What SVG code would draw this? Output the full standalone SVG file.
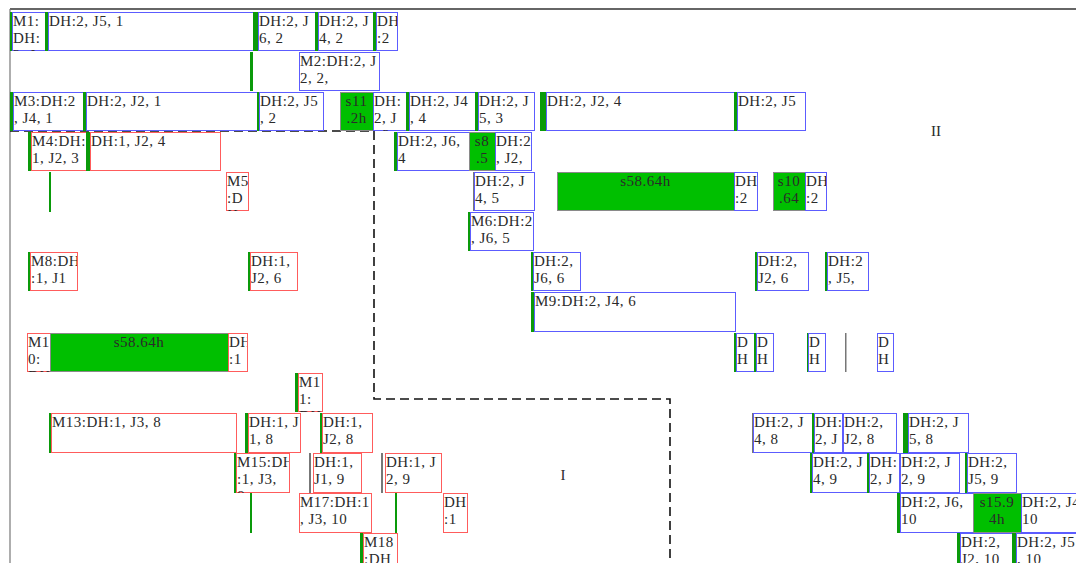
<svg xmlns="http://www.w3.org/2000/svg" width="1076" height="563" viewBox="0 0 1076 563">
<style>
.bl{fill:#fff;stroke:#5c5cff;stroke-width:1}
.rd{fill:#fff;stroke:#ff5c5c;stroke-width:1}
.gb{fill:#0a9a0a}
.gy{fill:#777}
.gx{fill:#00bf00;stroke:#8a8a8a;stroke-width:1}
text{font-family:"Liberation Serif","Noto Sans CJK SC",serif;font-size:15px;fill:#2a2a2a;letter-spacing:0.5px}
.c{text-anchor:middle}
.lab{font-size:15px;letter-spacing:0}
.dash{fill:none;stroke:#111;stroke-width:1.6;stroke-dasharray:9 5}
</style>
<rect width="1076" height="563" fill="#fff"/>
<g id="frame">
<line x1="10" y1="9" x2="1076" y2="9" stroke="#333" stroke-width="1.5"/>
<line x1="10" y1="9" x2="10" y2="563" stroke="#777" stroke-width="1.2"/>
</g>
<g id="connectors">
<polyline class="dash" points="10,131 374,131 374,399 670,399 670,563"/>
</g>
<g id="labels">
<text class="lab" x="936" y="136" text-anchor="middle">II</text>
<text class="lab" x="563" y="480" text-anchor="middle">I</text>
</g>

<!-- Row 1 -->
<g id="n-m1"><rect class="gb" x="10" y="12" width="3" height="39"/><rect class="bl" x="12.5" y="12.5" width="33" height="38"/><svg x="12" y="12" width="33" height="39"><text x="1" y="14">M1:</text><text x="1" y="31">DH:</text><text x="1" y="48">2, J</text></svg></g>
<g id="n-r1b"><rect class="gb" x="45" y="12" width="3" height="39"/><rect class="bl" x="48.5" y="12.5" width="205" height="38"/><svg x="48" y="12" width="205" height="39"><text x="1" y="14">DH:2, J5, 1</text></svg></g>
<g id="n-r1c"><rect class="gb" x="253" y="12" width="5" height="39"/><rect class="bl" x="258.5" y="12.5" width="57" height="38"/><svg x="258" y="12" width="57" height="39"><text x="1" y="14">DH:2, J</text><text x="1" y="31">6, 2</text></svg></g>
<g id="n-r1d"><rect class="gb" x="315" y="12" width="3" height="39"/><rect class="bl" x="318.5" y="12.5" width="55" height="38"/><svg x="318" y="12" width="55" height="39"><text x="1" y="14">DH:2, J</text><text x="1" y="31">4, 2</text></svg></g>
<g id="n-r1e"><rect class="gb" x="373" y="12" width="3" height="39"/><rect class="bl" x="376.5" y="12.5" width="21" height="38"/><svg x="376" y="12" width="21" height="39"><text x="1" y="14">DH</text><text x="1" y="31">:2</text></svg></g>

<!-- Row 2 -->
<g id="n-m2"><rect class="gb" x="250" y="52" width="3" height="39"/><rect class="bl" x="299.5" y="52.5" width="80" height="38"/><svg x="299" y="52" width="80" height="39"><text x="1" y="14">M2:DH:2, J</text><text x="1" y="31">2, 2,</text></svg></g>

<!-- Row 3 -->
<g id="n-m3"><rect class="gb" x="10" y="92" width="3" height="39"/><rect class="bl" x="13.5" y="92.5" width="70" height="38"/><svg x="13" y="92" width="70" height="39"><text x="1" y="14">M3:DH:2</text><text x="1" y="31">, J4, 1</text></svg></g>
<g id="n-r3b"><rect class="gb" x="83" y="92" width="3" height="39"/><rect class="bl" x="86.5" y="92.5" width="171" height="38"/><svg x="86" y="92" width="171" height="39"><text x="1" y="14">DH:2, J2, 1</text></svg></g>
<g id="n-r3c"><rect class="gb" x="257" y="92" width="2" height="39"/><rect class="bl" x="259.5" y="92.5" width="64" height="38"/><svg x="259" y="92" width="64" height="39"><text x="1" y="14">DH:2, J5</text><text x="1" y="31">, 2</text></svg></g>
<g id="n-s11"><rect class="gx" x="340.5" y="92.5" width="33" height="38"/><svg x="340" y="92" width="33" height="39"><text class="c" x="50%" y="14">s11</text><text class="c" x="50%" y="31">.2h</text></svg></g>
<g id="n-r3d"><rect class="bl" x="373.5" y="92.5" width="33" height="38"/><svg x="373" y="92" width="33" height="39"><text x="1" y="14">DH:</text><text x="1" y="31">2, J</text><text x="1" y="48">, 2</text></svg></g>
<g id="n-r3e"><rect class="gb" x="406" y="92" width="3" height="39"/><rect class="bl" x="409.5" y="92.5" width="66" height="38"/><svg x="409" y="92" width="66" height="39"><text x="1" y="14">DH:2, J4</text><text x="1" y="31">, 4</text></svg></g>
<g id="n-r3f"><rect class="gb" x="475" y="92" width="3" height="39"/><rect class="bl" x="478.5" y="92.5" width="56" height="38"/><svg x="478" y="92" width="56" height="39"><text x="1" y="14">DH:2, J</text><text x="1" y="31">5, 3</text></svg></g>
<g id="n-r3g"><rect class="gb" x="540" y="92" width="6" height="39"/><rect class="bl" x="546.5" y="92.5" width="188" height="38"/><svg x="546" y="92" width="188" height="39"><text x="1" y="14">DH:2, J2, 4</text></svg></g>
<g id="n-r3h"><rect class="gb" x="734" y="92" width="3" height="39"/><rect class="bl" x="737.5" y="92.5" width="68" height="38"/><svg x="737" y="92" width="68" height="39"><text x="1" y="14">DH:2, J5</text></svg></g>

<!-- Row 4 -->
<g id="n-m4"><rect class="gb" x="28" y="132" width="3" height="39"/><rect class="rd" x="31.5" y="132.5" width="55" height="38"/><svg x="31" y="132" width="55" height="39"><text x="1" y="14">M4:DH:</text><text x="1" y="31">1, J2, 3</text></svg></g>
<g id="n-r4b"><rect class="gb" x="86" y="132" width="4" height="39"/><rect class="rd" x="90.5" y="132.5" width="130" height="38"/><svg x="90" y="132" width="130" height="39"><text x="1" y="14">DH:1, J2, 4</text></svg></g>
<g id="n-r4c"><rect class="gb" x="394" y="132" width="3" height="39"/><rect class="bl" x="397.5" y="132.5" width="72" height="38"/><svg x="397" y="132" width="72" height="39"><text x="1" y="14">DH:2, J6,</text><text x="1" y="31">4</text></svg></g>
<g id="n-s8"><rect class="gx" x="469.5" y="132.5" width="26" height="38"/><svg x="469" y="132" width="26" height="39"><text class="c" x="50%" y="14">s8</text><text class="c" x="50%" y="31">.5</text></svg></g>
<g id="n-r4d"><rect class="bl" x="495.5" y="132.5" width="36" height="38"/><svg x="495" y="132" width="36" height="39"><text x="1" y="14">DH:2</text><text x="1" y="31">, J2,</text></svg></g>

<!-- Row 5 -->
<g id="n-r5a"><rect class="gb" x="49" y="172" width="2" height="40"/></g>
<g id="n-m5"><rect class="rd" x="226.5" y="172.5" width="22" height="38"/><svg x="226" y="172" width="22" height="39"><text x="1" y="14">M5</text><text x="1" y="31">:D</text><text x="1" y="48">H</text></svg></g>
<g id="n-r5b"><rect class="gy" x="473" y="172" width="1.5" height="39"/><rect class="bl" x="474.5" y="172.5" width="60" height="38"/><svg x="474" y="172" width="60" height="39"><text x="1" y="14">DH:2, J</text><text x="1" y="31">4, 5</text></svg></g>
<g id="n-s58a"><rect class="gx" x="557.5" y="172.5" width="177" height="38"/><svg x="557" y="172" width="177" height="39"><text class="c" x="50%" y="14">s58.64h</text></svg></g>
<g id="n-r5c"><rect class="bl" x="734.5" y="172.5" width="23" height="38"/><svg x="734" y="172" width="23" height="39"><text x="1" y="14">DH</text><text x="1" y="31">:2</text></svg></g>
<g id="n-s10"><rect class="gx" x="773.5" y="172.5" width="32" height="38"/><svg x="773" y="172" width="32" height="39"><text class="c" x="50%" y="14">s10</text><text class="c" x="50%" y="31">.64</text></svg></g>
<g id="n-r5d"><rect class="bl" x="805.5" y="172.5" width="21" height="38"/><svg x="805" y="172" width="21" height="39"><text x="1" y="14">DH</text><text x="1" y="31">:2</text></svg></g>

<!-- Row 6 -->
<g id="n-m6"><rect class="gb" x="468" y="212" width="2" height="39"/><rect class="bl" x="470.5" y="212.5" width="63" height="38"/><svg x="470" y="212" width="63" height="39"><text x="1" y="14">M6:DH:2</text><text x="1" y="31">, J6, 5</text></svg></g>

<!-- Row 7 -->
<g id="n-m8"><rect class="gb" x="28" y="252" width="2" height="39"/><rect class="rd" x="30.5" y="252.5" width="47" height="38"/><svg x="30" y="252" width="47" height="39"><text x="1" y="14">M8:DH</text><text x="1" y="31">:1, J1</text></svg></g>
<g id="n-r7b"><rect class="gb" x="248" y="252" width="2" height="39"/><rect class="rd" x="250.5" y="252.5" width="47" height="38"/><svg x="250" y="252" width="47" height="39"><text x="1" y="14">DH:1,</text><text x="1" y="31">J2, 6</text></svg></g>
<g id="n-r7c"><rect class="gb" x="531" y="252" width="2" height="39"/><rect class="bl" x="533.5" y="252.5" width="47" height="38"/><svg x="533" y="252" width="47" height="39"><text x="1" y="14">DH:2,</text><text x="1" y="31">J6, 6</text></svg></g>
<g id="n-r7d"><rect class="gb" x="755" y="252" width="2" height="39"/><rect class="bl" x="757.5" y="252.5" width="51" height="38"/><svg x="757" y="252" width="51" height="39"><text x="1" y="14">DH:2,</text><text x="1" y="31">J2, 6</text></svg></g>
<g id="n-r7e"><rect class="gb" x="825" y="252" width="2" height="39"/><rect class="bl" x="827.5" y="252.5" width="41" height="38"/><svg x="827" y="252" width="41" height="39"><text x="1" y="14">DH:2</text><text x="1" y="31">, J5,</text></svg></g>

<!-- Row 8 -->
<g id="n-m9"><rect class="gb" x="531" y="292" width="3" height="40"/><rect class="bl" x="534.5" y="292.5" width="201" height="39"/><svg x="534" y="292" width="201" height="40"><text x="1" y="14">M9:DH:2, J4, 6</text></svg></g>

<!-- Row 9 -->
<g id="n-m10"><rect class="rd" x="27.5" y="333.5" width="23" height="38"/><svg x="27" y="333" width="23" height="39"><text x="1" y="14">M1</text><text x="1" y="31">0:</text><text x="1" y="48">DH</text></svg></g>
<g id="n-s58b"><rect class="gx" x="50.5" y="333.5" width="178" height="38"/><svg x="50" y="333" width="178" height="39"><text class="c" x="50%" y="14">s58.64h</text></svg></g>
<g id="n-r9b"><rect class="rd" x="228.5" y="333.5" width="19" height="38"/><svg x="228" y="333" width="19" height="39"><text x="1" y="14">DH</text><text x="1" y="31">:1</text></svg></g>
<g id="n-r9c"><rect class="gb" x="734" y="333" width="2" height="39"/><rect class="bl" x="736.5" y="333.5" width="18" height="38"/><svg x="736" y="333" width="18" height="39"><text x="1" y="14">D</text><text x="1" y="31">H</text></svg></g>
<g id="n-r9d"><rect class="gb" x="754" y="333" width="2" height="39"/><rect class="bl" x="756.5" y="333.5" width="17" height="38"/><svg x="756" y="333" width="17" height="39"><text x="1" y="14">D</text><text x="1" y="31">H</text></svg></g>
<g id="n-r9e"><rect class="gb" x="807" y="333" width="2" height="39"/><rect class="bl" x="808.5" y="333.5" width="17" height="38"/><svg x="808" y="333" width="17" height="39"><text x="1" y="14">D</text><text x="1" y="31">H</text></svg></g>
<g id="n-r9f"><rect class="gy" x="845" y="333" width="1.5" height="39"/></g>
<g id="n-r9g"><rect class="bl" x="877.5" y="333.5" width="16" height="38"/><svg x="877" y="333" width="16" height="39"><text x="1" y="14">D</text><text x="1" y="31">H</text></svg></g>

<!-- Row 10 -->
<g id="n-m11"><rect class="gb" x="295" y="373" width="3" height="39"/><rect class="rd" x="298.5" y="373.5" width="24" height="38"/><svg x="298" y="373" width="24" height="39"><text x="1" y="14">M1</text><text x="1" y="31">1:</text><text x="1" y="48">DH</text></svg></g>

<!-- Row 11 -->
<g id="n-m13"><rect class="gb" x="49" y="413" width="2" height="40"/><rect class="rd" x="51.5" y="413.5" width="185" height="39"/><svg x="51" y="413" width="185" height="40"><text x="1" y="14">M13:DH:1, J3, 8</text></svg></g>
<g id="n-r11b"><rect class="gb" x="245" y="413" width="3" height="40"/><rect class="rd" x="248.5" y="413.5" width="52" height="39"/><svg x="248" y="413" width="52" height="40"><text x="1" y="14">DH:1, J</text><text x="1" y="31">1, 8</text></svg></g>
<g id="n-r11c"><rect class="gb" x="320" y="413" width="2" height="40"/><rect class="rd" x="322.5" y="413.5" width="50" height="39"/><svg x="322" y="413" width="50" height="40"><text x="1" y="14">DH:1,</text><text x="1" y="31">J2, 8</text></svg></g>
<g id="n-r11d"><rect class="gy" x="752" y="413" width="1.5" height="40"/><rect class="bl" x="753.5" y="413.5" width="59" height="39"/><svg x="753" y="413" width="59" height="40"><text x="1" y="14">DH:2, J</text><text x="1" y="31">4, 8</text></svg></g>
<g id="n-r11e"><rect class="gb" x="812" y="413" width="2" height="40"/><rect class="bl" x="814.5" y="413.5" width="28" height="39"/><svg x="814" y="413" width="28" height="40"><text x="1" y="14">DH:</text><text x="1" y="31">2, J</text></svg></g>
<g id="n-r11f"><rect class="bl" x="843.5" y="413.5" width="53" height="39"/><svg x="843" y="413" width="53" height="40"><text x="1" y="14">DH:2,</text><text x="1" y="31">J2, 8</text></svg></g>
<g id="n-r11g"><rect class="gb" x="903" y="413" width="5" height="40"/><rect class="bl" x="908.5" y="413.5" width="60" height="39"/><svg x="908" y="413" width="60" height="40"><text x="1" y="14">DH:2, J</text><text x="1" y="31">5, 8</text></svg></g>

<!-- Row 12 -->
<g id="n-m15"><rect class="gb" x="234" y="453" width="2" height="40"/><rect class="rd" x="236.5" y="453.5" width="53" height="39"/><svg x="236" y="453" width="53" height="40"><text x="1" y="14">M15:DH</text><text x="1" y="31">:1, J3,</text><text x="1" y="48">8</text></svg></g>
<g id="n-r12b"><rect class="gy" x="309" y="453" width="2" height="40"/><rect class="rd" x="313.5" y="453.5" width="48" height="39"/><svg x="313" y="453" width="48" height="40"><text x="1" y="14">DH:1,</text><text x="1" y="31">J1, 9</text></svg></g>
<g id="n-r12c"><rect class="gy" x="381" y="453" width="2" height="40"/><rect class="rd" x="385.5" y="453.5" width="56" height="39"/><svg x="385" y="453" width="56" height="40"><text x="1" y="14">DH:1, J</text><text x="1" y="31">2, 9</text></svg></g>
<g id="n-r12d"><rect class="gb" x="810" y="453" width="2" height="40"/><rect class="bl" x="812.5" y="453.5" width="55" height="39"/><svg x="812" y="453" width="55" height="40"><text x="1" y="14">DH:2, J</text><text x="1" y="31">4, 9</text></svg></g>
<g id="n-r12e"><rect class="gb" x="867" y="453" width="2" height="40"/><rect class="bl" x="869.5" y="453.5" width="30" height="39"/><svg x="869" y="453" width="30" height="40"><text x="1" y="14">DH:</text><text x="1" y="31">2, J</text></svg></g>
<g id="n-r12f"><rect class="bl" x="900.5" y="453.5" width="59" height="39"/><svg x="900" y="453" width="59" height="40"><text x="1" y="14">DH:2, J</text><text x="1" y="31">2, 9</text></svg></g>
<g id="n-r12g"><rect class="gb" x="965" y="453" width="2" height="40"/><rect class="bl" x="967.5" y="453.5" width="49" height="39"/><svg x="967" y="453" width="49" height="40"><text x="1" y="14">DH:2,</text><text x="1" y="31">J5, 9</text></svg></g>

<!-- Row 13 -->
<g id="n-r13a"><rect class="gb" x="250" y="493" width="2" height="40"/></g>
<g id="n-m17"><rect class="rd" x="299.5" y="493.5" width="72" height="39"/><svg x="299" y="493" width="72" height="40"><text x="1" y="14">M17:DH:1</text><text x="1" y="31">, J3, 10</text></svg></g>
<g id="n-r13b"><rect class="gb" x="395" y="493" width="2" height="40"/></g>
<g id="n-r13c"><rect class="rd" x="443.5" y="493.5" width="24" height="39"/><svg x="443" y="493" width="24" height="40"><text x="1" y="14">DH</text><text x="1" y="31">:1</text></svg></g>
<g id="n-r13d"><rect class="gb" x="897" y="493" width="3" height="40"/><rect class="bl" x="900.5" y="493.5" width="73" height="39"/><svg x="900" y="493" width="73" height="40"><text x="1" y="14">DH:2, J6,</text><text x="1" y="31">10</text></svg></g>
<g id="n-s15"><rect class="gx" x="973.5" y="493.5" width="48" height="39"/><svg x="973" y="493" width="48" height="40"><text class="c" x="50%" y="14">s15.9</text><text class="c" x="50%" y="31">4h</text></svg></g>
<g id="n-r13e"><rect class="bl" x="1021.5" y="493.5" width="70" height="39"/><svg x="1021" y="493" width="70" height="40"><text x="1" y="14">DH:2, J4,</text><text x="1" y="31">10</text></svg></g>

<!-- Row 14 -->
<g id="n-m18"><rect class="gb" x="360" y="533" width="3" height="40"/><rect class="rd" x="363.5" y="533.5" width="34" height="39"/><svg x="363" y="533" width="34" height="40"><text x="1" y="14">M18</text><text x="1" y="31">:DH</text></svg></g>
<g id="n-r14b"><rect class="gb" x="957" y="533" width="3" height="40"/><rect class="bl" x="960.5" y="533.5" width="52" height="39"/><svg x="960" y="533" width="52" height="40"><text x="1" y="14">DH:2,</text><text x="1" y="31">J2, 10</text></svg></g>
<g id="n-r14c"><rect class="gb" x="1012" y="533" width="4" height="40"/><rect class="bl" x="1016.5" y="533.5" width="70" height="39"/><svg x="1016" y="533" width="70" height="40"><text x="1" y="14">DH:2, J5</text><text x="1" y="31">, 10</text></svg></g>
</svg>
